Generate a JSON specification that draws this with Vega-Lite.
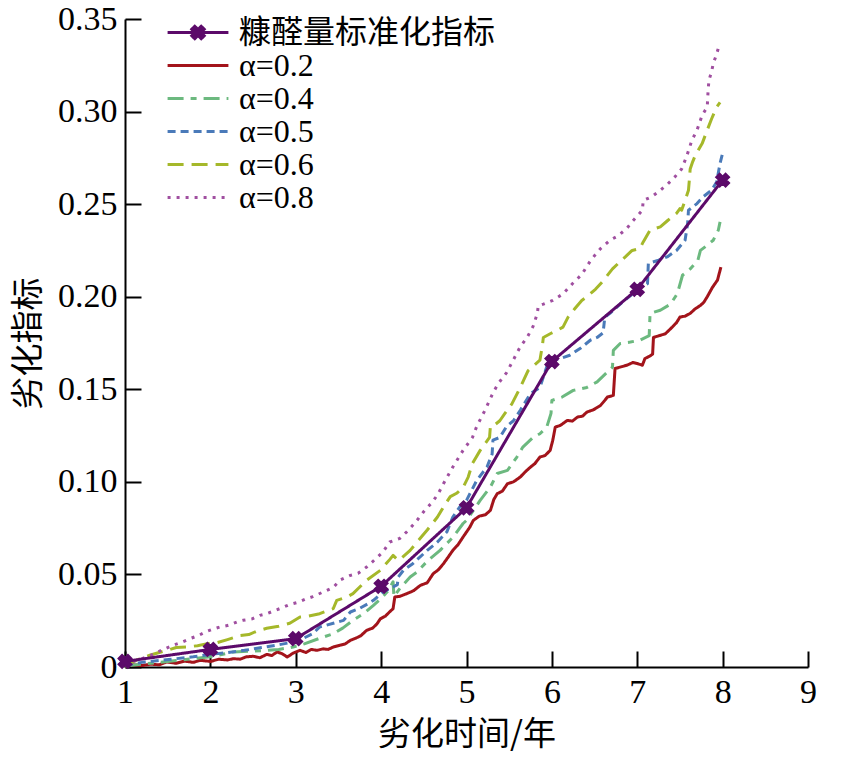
{
"$schema": "https://vega.github.io/schema/vega-lite/v6.json",
"autosize": "none",
"width": 683,
"height": 648,
"padding": {"left": 125, "top": 19, "right": 37, "bottom": 94},
"background": "white",
"config": {
  "view": {"stroke": null},
  "axis": {"domainColor": "black", "domainWidth": 2, "tickColor": "black", "tickWidth": 2, "tickSize": -16, "labelPadding": 24, "grid": false, "labelFont": "Liberation Serif", "labelFontSize": 34, "labelColor": "black", "labelFlush": false, "labelOverlap": false, "titleFont": "Noto Sans CJK SC", "titleFontSize": 33, "titleFontWeight": "normal", "titleColor": "black"}
},
"data": {"name": "d"},
"datasets": {"d": [
{"s":"α=0.2","t":1.0,"v":0.0005},{"s":"α=0.2","t":1.1,"v":0.0012},{"s":"α=0.2","t":1.2,"v":0.0008},{"s":"α=0.2","t":1.3,"v":0.0015},{"s":"α=0.2","t":1.4,"v":0.0012},{"s":"α=0.2","t":1.49,"v":0.0027},{"s":"α=0.2","t":1.6,"v":0.002},{"s":"α=0.2","t":1.7,"v":0.0032},{"s":"α=0.2","t":1.8,"v":0.0025},{"s":"α=0.2","t":1.88,"v":0.0036},{"s":"α=0.2","t":2.0,"v":0.003},{"s":"α=0.2","t":2.1,"v":0.0042},{"s":"α=0.2","t":2.2,"v":0.0038},{"s":"α=0.2","t":2.27,"v":0.0045},{"s":"α=0.2","t":2.35,"v":0.0042},{"s":"α=0.2","t":2.42,"v":0.0055},{"s":"α=0.2","t":2.5,"v":0.0058},{"s":"α=0.2","t":2.58,"v":0.005},{"s":"α=0.2","t":2.66,"v":0.0068},{"s":"α=0.2","t":2.72,"v":0.0062},{"s":"α=0.2","t":2.78,"v":0.0081},{"s":"α=0.2","t":2.84,"v":0.0072},{"s":"α=0.2","t":2.9,"v":0.0054},{"s":"α=0.2","t":2.97,"v":0.0075},{"s":"α=0.2","t":3.05,"v":0.009},{"s":"α=0.2","t":3.12,"v":0.0078},{"s":"α=0.2","t":3.18,"v":0.0095},{"s":"α=0.2","t":3.25,"v":0.009},{"s":"α=0.2","t":3.32,"v":0.0098},{"s":"α=0.2","t":3.38,"v":0.0095},{"s":"α=0.2","t":3.44,"v":0.0108},{"s":"α=0.2","t":3.52,"v":0.0118},{"s":"α=0.2","t":3.58,"v":0.0125},{"s":"α=0.2","t":3.64,"v":0.0144},{"s":"α=0.2","t":3.7,"v":0.0155},{"s":"α=0.2","t":3.76,"v":0.0168},{"s":"α=0.2","t":3.83,"v":0.0198},{"s":"α=0.2","t":3.9,"v":0.021},{"s":"α=0.2","t":3.95,"v":0.0232},{"s":"α=0.2","t":3.99,"v":0.026},{"s":"α=0.2","t":4.05,"v":0.0275},{"s":"α=0.2","t":4.1,"v":0.0298},{"s":"α=0.2","t":4.14,"v":0.0315},{"s":"α=0.2","t":4.16,"v":0.0378},{"s":"α=0.2","t":4.22,"v":0.0382},{"s":"α=0.2","t":4.3,"v":0.0396},{"s":"α=0.2","t":4.38,"v":0.0412},{"s":"α=0.2","t":4.46,"v":0.0441},{"s":"α=0.2","t":4.54,"v":0.0455},{"s":"α=0.2","t":4.61,"v":0.0504},{"s":"α=0.2","t":4.67,"v":0.0525},{"s":"α=0.2","t":4.73,"v":0.0558},{"s":"α=0.2","t":4.78,"v":0.059},{"s":"α=0.2","t":4.84,"v":0.063},{"s":"α=0.2","t":4.9,"v":0.066},{"s":"α=0.2","t":4.96,"v":0.0702},{"s":"α=0.2","t":5.04,"v":0.0756},{"s":"α=0.2","t":5.08,"v":0.0792},{"s":"α=0.2","t":5.15,"v":0.0815},{"s":"α=0.2","t":5.22,"v":0.0822},{"s":"α=0.2","t":5.28,"v":0.0846},{"s":"α=0.2","t":5.32,"v":0.0905},{"s":"α=0.2","t":5.36,"v":0.0936},{"s":"α=0.2","t":5.42,"v":0.095},{"s":"α=0.2","t":5.48,"v":0.099},{"s":"α=0.2","t":5.55,"v":0.1},{"s":"α=0.2","t":5.63,"v":0.1026},{"s":"α=0.2","t":5.69,"v":0.1055},{"s":"α=0.2","t":5.75,"v":0.108},{"s":"α=0.2","t":5.8,"v":0.1098},{"s":"α=0.2","t":5.86,"v":0.1134},{"s":"α=0.2","t":5.92,"v":0.1142},{"s":"α=0.2","t":5.98,"v":0.117},{"s":"α=0.2","t":6.01,"v":0.1224},{"s":"α=0.2","t":6.04,"v":0.1296},{"s":"α=0.2","t":6.1,"v":0.1305},{"s":"α=0.2","t":6.18,"v":0.1332},{"s":"α=0.2","t":6.24,"v":0.1328},{"s":"α=0.2","t":6.3,"v":0.135},{"s":"α=0.2","t":6.36,"v":0.1355},{"s":"α=0.2","t":6.41,"v":0.1377},{"s":"α=0.2","t":6.49,"v":0.139},{"s":"α=0.2","t":6.57,"v":0.1413},{"s":"α=0.2","t":6.62,"v":0.144},{"s":"α=0.2","t":6.65,"v":0.1458},{"s":"α=0.2","t":6.72,"v":0.1467},{"s":"α=0.2","t":6.74,"v":0.1612},{"s":"α=0.2","t":6.8,"v":0.162},{"s":"α=0.2","t":6.88,"v":0.163},{"s":"α=0.2","t":6.95,"v":0.1645},{"s":"α=0.2","t":7.0,"v":0.1639},{"s":"α=0.2","t":7.06,"v":0.163},{"s":"α=0.2","t":7.09,"v":0.1666},{"s":"α=0.2","t":7.15,"v":0.168},{"s":"α=0.2","t":7.18,"v":0.169},{"s":"α=0.2","t":7.19,"v":0.178},{"s":"α=0.2","t":7.26,"v":0.179},{"s":"α=0.2","t":7.33,"v":0.18},{"s":"α=0.2","t":7.41,"v":0.1836},{"s":"α=0.2","t":7.46,"v":0.186},{"s":"α=0.2","t":7.5,"v":0.189},{"s":"α=0.2","t":7.56,"v":0.1895},{"s":"α=0.2","t":7.62,"v":0.191},{"s":"α=0.2","t":7.68,"v":0.1935},{"s":"α=0.2","t":7.74,"v":0.1953},{"s":"α=0.2","t":7.78,"v":0.197},{"s":"α=0.2","t":7.82,"v":0.2},{"s":"α=0.2","t":7.88,"v":0.205},{"s":"α=0.2","t":7.94,"v":0.209},{"s":"α=0.2","t":7.98,"v":0.216},
{"s":"α=0.4","t":1.0,"v":0.0005},{"s":"α=0.4","t":1.2,"v":0.0015},{"s":"α=0.4","t":1.4,"v":0.0025},{"s":"α=0.4","t":1.6,"v":0.0035},{"s":"α=0.4","t":1.8,"v":0.0045},{"s":"α=0.4","t":2.0,"v":0.0055},{"s":"α=0.4","t":2.27,"v":0.0081},{"s":"α=0.4","t":2.45,"v":0.0085},{"s":"α=0.4","t":2.66,"v":0.009},{"s":"α=0.4","t":2.8,"v":0.0095},{"s":"α=0.4","t":2.97,"v":0.0108},{"s":"α=0.4","t":3.1,"v":0.0125},{"s":"α=0.4","t":3.28,"v":0.0155},{"s":"α=0.4","t":3.44,"v":0.018},{"s":"α=0.4","t":3.55,"v":0.021},{"s":"α=0.4","t":3.67,"v":0.0252},{"s":"α=0.4","t":3.8,"v":0.029},{"s":"α=0.4","t":3.91,"v":0.0333},{"s":"α=0.4","t":4.0,"v":0.037},{"s":"α=0.4","t":4.08,"v":0.041},{"s":"α=0.4","t":4.14,"v":0.046},{"s":"α=0.4","t":4.15,"v":0.038},{"s":"α=0.4","t":4.22,"v":0.0425},{"s":"α=0.4","t":4.34,"v":0.0486},{"s":"α=0.4","t":4.42,"v":0.0513},{"s":"α=0.4","t":4.55,"v":0.0576},{"s":"α=0.4","t":4.69,"v":0.063},{"s":"α=0.4","t":4.84,"v":0.07},{"s":"α=0.4","t":4.96,"v":0.0775},{"s":"α=0.4","t":5.0,"v":0.0792},{"s":"α=0.4","t":5.16,"v":0.09},{"s":"α=0.4","t":5.28,"v":0.0972},{"s":"α=0.4","t":5.36,"v":0.1045},{"s":"α=0.4","t":5.48,"v":0.1062},{"s":"α=0.4","t":5.59,"v":0.1134},{"s":"α=0.4","t":5.66,"v":0.1188},{"s":"α=0.4","t":5.78,"v":0.124},{"s":"α=0.4","t":5.86,"v":0.126},{"s":"α=0.4","t":5.94,"v":0.1296},{"s":"α=0.4","t":5.99,"v":0.137},{"s":"α=0.4","t":6.0,"v":0.144},{"s":"α=0.4","t":6.12,"v":0.1458},{"s":"α=0.4","t":6.25,"v":0.1494},{"s":"α=0.4","t":6.41,"v":0.151},{"s":"α=0.4","t":6.53,"v":0.154},{"s":"α=0.4","t":6.65,"v":0.1593},{"s":"α=0.4","t":6.71,"v":0.162},{"s":"α=0.4","t":6.72,"v":0.171},{"s":"α=0.4","t":6.8,"v":0.1747},{"s":"α=0.4","t":6.92,"v":0.1755},{"s":"α=0.4","t":7.03,"v":0.1765},{"s":"α=0.4","t":7.14,"v":0.179},{"s":"α=0.4","t":7.15,"v":0.191},{"s":"α=0.4","t":7.27,"v":0.1927},{"s":"α=0.4","t":7.39,"v":0.196},{"s":"α=0.4","t":7.47,"v":0.2017},{"s":"α=0.4","t":7.53,"v":0.2116},{"s":"α=0.4","t":7.62,"v":0.215},{"s":"α=0.4","t":7.71,"v":0.2197},{"s":"α=0.4","t":7.74,"v":0.225},{"s":"α=0.4","t":7.82,"v":0.2278},{"s":"α=0.4","t":7.89,"v":0.2305},{"s":"α=0.4","t":7.95,"v":0.236},{"s":"α=0.4","t":7.97,"v":0.2404},
{"s":"α=0.5","t":1.0,"v":0.001},{"s":"α=0.5","t":1.2,"v":0.0025},{"s":"α=0.5","t":1.4,"v":0.0035},{"s":"α=0.5","t":1.6,"v":0.0045},{"s":"α=0.5","t":1.8,"v":0.0055},{"s":"α=0.5","t":2.0,"v":0.0068},{"s":"α=0.5","t":2.2,"v":0.0078},{"s":"α=0.5","t":2.4,"v":0.009},{"s":"α=0.5","t":2.6,"v":0.0105},{"s":"α=0.5","t":2.8,"v":0.012},{"s":"α=0.5","t":2.97,"v":0.0135},{"s":"α=0.5","t":3.09,"v":0.0155},{"s":"α=0.5","t":3.2,"v":0.018},{"s":"α=0.5","t":3.28,"v":0.0216},{"s":"α=0.5","t":3.44,"v":0.0236},{"s":"α=0.5","t":3.56,"v":0.0252},{"s":"α=0.5","t":3.64,"v":0.0297},{"s":"α=0.5","t":3.75,"v":0.0317},{"s":"α=0.5","t":3.84,"v":0.034},{"s":"α=0.5","t":3.91,"v":0.036},{"s":"α=0.5","t":4.02,"v":0.0405},{"s":"α=0.5","t":4.14,"v":0.0432},{"s":"α=0.5","t":4.19,"v":0.0445},{"s":"α=0.5","t":4.2,"v":0.0486},{"s":"α=0.5","t":4.26,"v":0.0522},{"s":"α=0.5","t":4.37,"v":0.0558},{"s":"α=0.5","t":4.54,"v":0.063},{"s":"α=0.5","t":4.66,"v":0.0675},{"s":"α=0.5","t":4.77,"v":0.073},{"s":"α=0.5","t":4.84,"v":0.081},{"s":"α=0.5","t":4.92,"v":0.0864},{"s":"α=0.5","t":5.0,"v":0.09},{"s":"α=0.5","t":5.12,"v":0.1008},{"s":"α=0.5","t":5.24,"v":0.108},{"s":"α=0.5","t":5.3,"v":0.115},{"s":"α=0.5","t":5.31,"v":0.1225},{"s":"α=0.5","t":5.39,"v":0.124},{"s":"α=0.5","t":5.47,"v":0.13},{"s":"α=0.5","t":5.55,"v":0.133},{"s":"α=0.5","t":5.63,"v":0.1387},{"s":"α=0.5","t":5.75,"v":0.1477},{"s":"α=0.5","t":5.86,"v":0.151},{"s":"α=0.5","t":5.9,"v":0.1566},{"s":"α=0.5","t":5.96,"v":0.165},{"s":"α=0.5","t":6.1,"v":0.1666},{"s":"α=0.5","t":6.21,"v":0.1684},{"s":"α=0.5","t":6.33,"v":0.172},{"s":"α=0.5","t":6.45,"v":0.1765},{"s":"α=0.5","t":6.53,"v":0.178},{"s":"α=0.5","t":6.6,"v":0.1805},{"s":"α=0.5","t":6.62,"v":0.189},{"s":"α=0.5","t":6.68,"v":0.191},{"s":"α=0.5","t":6.8,"v":0.196},{"s":"α=0.5","t":6.95,"v":0.2017},{"s":"α=0.5","t":7.03,"v":0.205},{"s":"α=0.5","t":7.12,"v":0.207},{"s":"α=0.5","t":7.13,"v":0.218},{"s":"α=0.5","t":7.25,"v":0.2197},{"s":"α=0.5","t":7.35,"v":0.2215},{"s":"α=0.5","t":7.46,"v":0.225},{"s":"α=0.5","t":7.56,"v":0.2305},{"s":"α=0.5","t":7.59,"v":0.2395},{"s":"α=0.5","t":7.6,"v":0.2467},{"s":"α=0.5","t":7.7,"v":0.2503},{"s":"α=0.5","t":7.77,"v":0.2539},{"s":"α=0.5","t":7.87,"v":0.2575},{"s":"α=0.5","t":7.93,"v":0.262},{"s":"α=0.5","t":7.97,"v":0.272},{"s":"α=0.5","t":8.0,"v":0.2775},
{"s":"α=0.6","t":1.0,"v":0.001},{"s":"α=0.6","t":1.15,"v":0.004},{"s":"α=0.6","t":1.3,"v":0.0065},{"s":"α=0.6","t":1.49,"v":0.009},{"s":"α=0.6","t":1.6,"v":0.0105},{"s":"α=0.6","t":1.72,"v":0.0108},{"s":"α=0.6","t":1.85,"v":0.0115},{"s":"α=0.6","t":1.95,"v":0.0125},{"s":"α=0.6","t":2.07,"v":0.013},{"s":"α=0.6","t":2.2,"v":0.0148},{"s":"α=0.6","t":2.35,"v":0.017},{"s":"α=0.6","t":2.45,"v":0.0175},{"s":"α=0.6","t":2.55,"v":0.0195},{"s":"α=0.6","t":2.66,"v":0.0209},{"s":"α=0.6","t":2.8,"v":0.022},{"s":"α=0.6","t":2.93,"v":0.0236},{"s":"α=0.6","t":3.05,"v":0.027},{"s":"α=0.6","t":3.15,"v":0.0275},{"s":"α=0.6","t":3.28,"v":0.0288},{"s":"α=0.6","t":3.44,"v":0.0316},{"s":"α=0.6","t":3.48,"v":0.036},{"s":"α=0.6","t":3.6,"v":0.0378},{"s":"α=0.6","t":3.67,"v":0.0396},{"s":"α=0.6","t":3.83,"v":0.0468},{"s":"α=0.6","t":3.99,"v":0.0522},{"s":"α=0.6","t":4.1,"v":0.058},{"s":"α=0.6","t":4.14,"v":0.0603},{"s":"α=0.6","t":4.2,"v":0.0576},{"s":"α=0.6","t":4.22,"v":0.058},{"s":"α=0.6","t":4.34,"v":0.063},{"s":"α=0.6","t":4.43,"v":0.068},{"s":"α=0.6","t":4.54,"v":0.074},{"s":"α=0.6","t":4.66,"v":0.081},{"s":"α=0.6","t":4.73,"v":0.0864},{"s":"α=0.6","t":4.81,"v":0.092},{"s":"α=0.6","t":4.89,"v":0.094},{"s":"α=0.6","t":4.96,"v":0.097},{"s":"α=0.6","t":5.02,"v":0.1026},{"s":"α=0.6","t":5.07,"v":0.11},{"s":"α=0.6","t":5.16,"v":0.117},{"s":"α=0.6","t":5.27,"v":0.124},{"s":"α=0.6","t":5.28,"v":0.13},{"s":"α=0.6","t":5.31,"v":0.13},{"s":"α=0.6","t":5.39,"v":0.133},{"s":"α=0.6","t":5.45,"v":0.137},{"s":"α=0.6","t":5.53,"v":0.142},{"s":"α=0.6","t":5.63,"v":0.151},{"s":"α=0.6","t":5.72,"v":0.16},{"s":"α=0.6","t":5.86,"v":0.1657},{"s":"α=0.6","t":5.89,"v":0.174},{"s":"α=0.6","t":5.9,"v":0.178},{"s":"α=0.6","t":5.98,"v":0.18},{"s":"α=0.6","t":6.07,"v":0.182},{"s":"α=0.6","t":6.13,"v":0.1836},{"s":"α=0.6","t":6.19,"v":0.189},{"s":"α=0.6","t":6.27,"v":0.1936},{"s":"α=0.6","t":6.35,"v":0.198},{"s":"α=0.6","t":6.41,"v":0.2},{"s":"α=0.6","t":6.51,"v":0.204},{"s":"α=0.6","t":6.59,"v":0.208},{"s":"α=0.6","t":6.71,"v":0.215},{"s":"α=0.6","t":6.8,"v":0.219},{"s":"α=0.6","t":6.86,"v":0.2215},{"s":"α=0.6","t":6.94,"v":0.225},{"s":"α=0.6","t":7.03,"v":0.226},{"s":"α=0.6","t":7.07,"v":0.2296},{"s":"α=0.6","t":7.15,"v":0.236},{"s":"α=0.6","t":7.27,"v":0.2377},{"s":"α=0.6","t":7.36,"v":0.2413},{"s":"α=0.6","t":7.46,"v":0.245},{"s":"α=0.6","t":7.5,"v":0.2476},{"s":"α=0.6","t":7.52,"v":0.2467},{"s":"α=0.6","t":7.56,"v":0.252},{"s":"α=0.6","t":7.6,"v":0.2575},{"s":"α=0.6","t":7.61,"v":0.263},{"s":"α=0.6","t":7.62,"v":0.269},{"s":"α=0.6","t":7.65,"v":0.273},{"s":"α=0.6","t":7.68,"v":0.2764},{"s":"α=0.6","t":7.76,"v":0.2827},{"s":"α=0.6","t":7.82,"v":0.29},{"s":"α=0.6","t":7.87,"v":0.296},{"s":"α=0.6","t":7.93,"v":0.3025},{"s":"α=0.6","t":7.97,"v":0.305},
{"s":"α=0.8","t":1.0,"v":0.001},{"s":"α=0.8","t":1.1,"v":0.003},{"s":"α=0.8","t":1.2,"v":0.0045},{"s":"α=0.8","t":1.3,"v":0.0063},{"s":"α=0.8","t":1.45,"v":0.0095},{"s":"α=0.8","t":1.56,"v":0.0117},{"s":"α=0.8","t":1.67,"v":0.0135},{"s":"α=0.8","t":1.76,"v":0.0153},{"s":"α=0.8","t":1.86,"v":0.017},{"s":"α=0.8","t":1.94,"v":0.0189},{"s":"α=0.8","t":2.03,"v":0.0205},{"s":"α=0.8","t":2.11,"v":0.0216},{"s":"α=0.8","t":2.21,"v":0.0225},{"s":"α=0.8","t":2.31,"v":0.0243},{"s":"α=0.8","t":2.38,"v":0.0252},{"s":"α=0.8","t":2.49,"v":0.026},{"s":"α=0.8","t":2.58,"v":0.0279},{"s":"α=0.8","t":2.66,"v":0.0288},{"s":"α=0.8","t":2.76,"v":0.0306},{"s":"α=0.8","t":2.85,"v":0.0322},{"s":"α=0.8","t":2.93,"v":0.0338},{"s":"α=0.8","t":3.03,"v":0.035},{"s":"α=0.8","t":3.11,"v":0.0366},{"s":"α=0.8","t":3.2,"v":0.038},{"s":"α=0.8","t":3.32,"v":0.0405},{"s":"α=0.8","t":3.44,"v":0.043},{"s":"α=0.8","t":3.52,"v":0.047},{"s":"α=0.8","t":3.64,"v":0.0495},{"s":"α=0.8","t":3.73,"v":0.0506},{"s":"α=0.8","t":3.83,"v":0.054},{"s":"α=0.8","t":3.95,"v":0.059},{"s":"α=0.8","t":4.02,"v":0.062},{"s":"α=0.8","t":4.1,"v":0.0675},{"s":"α=0.8","t":4.22,"v":0.0695},{"s":"α=0.8","t":4.3,"v":0.073},{"s":"α=0.8","t":4.4,"v":0.078},{"s":"α=0.8","t":4.51,"v":0.0846},{"s":"α=0.8","t":4.6,"v":0.089},{"s":"α=0.8","t":4.67,"v":0.0937},{"s":"α=0.8","t":4.73,"v":0.099},{"s":"α=0.8","t":4.84,"v":0.108},{"s":"α=0.8","t":4.96,"v":0.117},{"s":"α=0.8","t":5.07,"v":0.124},{"s":"α=0.8","t":5.12,"v":0.13},{"s":"α=0.8","t":5.22,"v":0.139},{"s":"α=0.8","t":5.31,"v":0.148},{"s":"α=0.8","t":5.37,"v":0.153},{"s":"α=0.8","t":5.47,"v":0.159},{"s":"α=0.8","t":5.55,"v":0.166},{"s":"α=0.8","t":5.63,"v":0.173},{"s":"α=0.8","t":5.71,"v":0.178},{"s":"α=0.8","t":5.78,"v":0.184},{"s":"α=0.8","t":5.83,"v":0.191},{"s":"α=0.8","t":5.84,"v":0.195},{"s":"α=0.8","t":5.9,"v":0.196},{"s":"α=0.8","t":6.01,"v":0.198},{"s":"α=0.8","t":6.13,"v":0.2015},{"s":"α=0.8","t":6.24,"v":0.207},{"s":"α=0.8","t":6.35,"v":0.212},{"s":"α=0.8","t":6.46,"v":0.22},{"s":"α=0.8","t":6.57,"v":0.226},{"s":"α=0.8","t":6.68,"v":0.2305},{"s":"α=0.8","t":6.78,"v":0.233},{"s":"α=0.8","t":6.88,"v":0.237},{"s":"α=0.8","t":6.95,"v":0.241},{"s":"α=0.8","t":7.06,"v":0.2467},{"s":"α=0.8","t":7.07,"v":0.252},{"s":"α=0.8","t":7.17,"v":0.254},{"s":"α=0.8","t":7.27,"v":0.2575},{"s":"α=0.8","t":7.36,"v":0.261},{"s":"α=0.8","t":7.44,"v":0.2647},{"s":"α=0.8","t":7.52,"v":0.269},{"s":"α=0.8","t":7.58,"v":0.276},{"s":"α=0.8","t":7.64,"v":0.2845},{"s":"α=0.8","t":7.7,"v":0.29},{"s":"α=0.8","t":7.76,"v":0.298},{"s":"α=0.8","t":7.82,"v":0.3025},{"s":"α=0.8","t":7.83,"v":0.3115},{"s":"α=0.8","t":7.84,"v":0.317},{"s":"α=0.8","t":7.87,"v":0.3214},{"s":"α=0.8","t":7.89,"v":0.326},{"s":"α=0.8","t":7.93,"v":0.331},{"s":"α=0.8","t":7.96,"v":0.336},
{"s":"糠醛量标准化指标","t":1,"v":0.003},{"s":"糠醛量标准化指标","t":2,"v":0.0095},{"s":"糠醛量标准化指标","t":3,"v":0.0153},{"s":"糠醛量标准化指标","t":4,"v":0.0436},{"s":"糠醛量标准化指标","t":5,"v":0.086},{"s":"糠醛量标准化指标","t":6,"v":0.165},{"s":"糠醛量标准化指标","t":7,"v":0.204},{"s":"糠醛量标准化指标","t":8,"v":0.263}
]},
"encoding": {
  "x": {"field": "t", "type": "quantitative", "scale": {"domain": [1, 9], "nice": false, "zero": false},
        "axis": {"values": [1,2,3,4,5,6,7,8,9], "format": "d", "title": "劣化时间/年", "titlePadding": 9}},
  "y": {"field": "v", "type": "quantitative", "scale": {"domain": [0, 0.35], "nice": false},
        "axis": {"values": [0,0.05,0.1,0.15,0.2,0.25,0.3,0.35], "labelExpr": "datum.value === 0 ? '0' : format(datum.value, '.2f')", "title": "劣化指标", "titlePadding": 12}}
},
"layer": [
  {
    "mark": {"type": "line", "strokeWidth": 3, "strokeCap": "butt", "strokeJoin": "round"},
    "encoding": {
      "color": {"field": "s", "type": "nominal",
        "scale": {"domain": ["糠醛量标准化指标","α=0.2","α=0.4","α=0.5","α=0.6","α=0.8"], "range": ["#5c0a6a","#a3141b","#6cb97f","#4a7ab9","#a5b82a","#a04fa0"]},
        "legend": {"orient": "none", "legendX": 41, "legendY": -3, "title": null, "padding": 0, "symbolType": "stroke", "symbolSize": 3700, "symbolStrokeWidth": 3, "clipHeight": 33, "rowPadding": 0, "labelFont": "Liberation Serif, Noto Sans CJK SC", "labelFontSize": 32, "labelColor": "black", "labelOffset": 9, "labelLimit": 0,
          "encode": {"symbols": {"update": {
            "shape": {"signal": "datum.value === '糠醛量标准化指标' ? 'M-1,0H1M0.106,-0.205L0.205,-0.106L0.099,0L0.205,0.106L0.106,0.205L0,0.099L-0.106,0.205L-0.205,0.106L-0.099,0L-0.205,-0.106L-0.106,-0.205L0,-0.099Z' : 'stroke'"},
            "fill": {"signal": "datum.value === '糠醛量标准化指标' ? '#5c0a6a' : 'transparent'"}
          }}}}},
      "strokeDash": {"field": "s", "type": "nominal",
        "scale": {"domain": ["糠醛量标准化指标","α=0.2","α=0.4","α=0.5","α=0.6","α=0.8"], "range": [[1,0],[1,0],[16,7,6,7],[8,5],[16,8],[3,6]]}}
    }
  },
  {
    "transform": [{"filter": "datum.s === '糠醛量标准化指标'"}],
    "mark": {"type": "point", "shape": "cross", "angle": 45, "size": 190, "filled": true, "color": "#5c0a6a", "opacity": 1, "stroke": "#5c0a6a", "strokeWidth": 1.5}
  }
]
}
